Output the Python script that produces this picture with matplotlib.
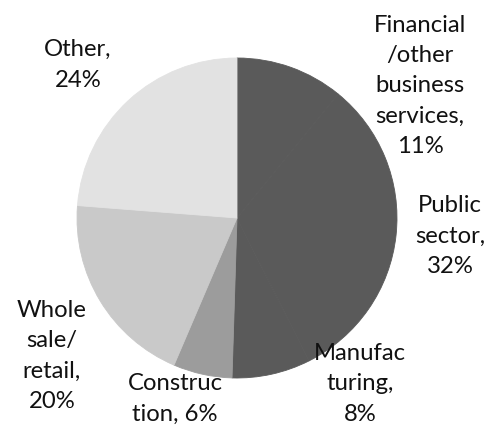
import matplotlib
matplotlib.use("Agg")
import matplotlib.pyplot as plt

# Employment share by sector, clockwise from 12 o'clock
sectors = ["Financial\n/other\nbusiness\nservices", "Public\nsector", "Manufac\nturing",
           "Construc\ntion", "Whole\nsale/\nretail", "Other"]
shares = [11, 32, 8, 6, 20, 24]
colors = ["#5a5a5a", "#5a5a5a", "#5a5a5a", "#9c9c9c", "#c9c9c9", "#e2e2e2"]

# label centres in pixels (x, y from top) and the separator before the value
label_pos = [(420, 86), (450, 236), (360, 384), (175, 399), (52, 356), (78, 65)]
label_sep = [",\n", ",\n", ",\n", ", ", ",\n", ",\n"]

W, H = 495, 425
fig = plt.figure(figsize=(W / 100, H / 100), dpi=100)
cx, cy, r = 237, 218, 160
ax = fig.add_axes([(cx - r) / W, (H - cy - r) / H, 2 * r / W, 2 * r / H])
wedges, _ = ax.pie(shares, colors=colors, startangle=90, counterclock=False,
                   wedgeprops=dict(linewidth=0.6))
for w, c in zip(wedges, colors):
    w.set_edgecolor(c)
ax.set_xlim(-1, 1)
ax.set_ylim(-1, 1)
ax.axis("off")

for name, val, (x, y), sep in zip(sectors, shares, label_pos, label_sep):
    fig.text(x / W, 1 - y / H, f"{name}{sep}{val}%", ha="center", va="center",
             multialignment="center", fontsize=17.2, family="Lato",
             linespacing=1.55, color="#111111")

fig.savefig("out.png", dpi=100)
